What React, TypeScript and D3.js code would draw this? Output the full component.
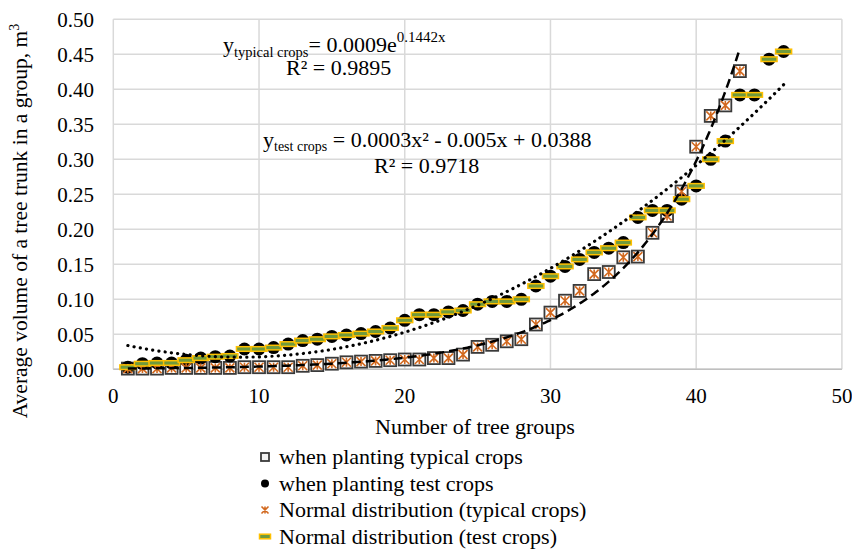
import React from "react";
import * as d3 from "d3";

// ---- data ----
const groupsTypical = d3.range(1, 44); // 1..43
const groupsTest = d3.range(1, 47); // 1..46

const typicalCrops = [
  0.001, 0.001, 0.001, 0.002, 0.002, 0.002, 0.002, 0.002, 0.003, 0.003,
  0.003, 0.003, 0.005, 0.006, 0.008, 0.010, 0.011, 0.012, 0.013, 0.014,
  0.014, 0.016, 0.016, 0.021, 0.032, 0.035, 0.040, 0.043, 0.064, 0.081,
  0.098, 0.112, 0.136, 0.139, 0.160, 0.161, 0.195, 0.219, 0.254, 0.318,
  0.362, 0.377, 0.426,
];
const testCrops = [
  0.003, 0.008, 0.009, 0.009, 0.013, 0.016, 0.018, 0.019, 0.029, 0.029,
  0.031, 0.036, 0.041, 0.043, 0.047, 0.049, 0.051, 0.054, 0.059, 0.070,
  0.078, 0.078, 0.082, 0.084, 0.093, 0.097, 0.097, 0.100, 0.119, 0.133,
  0.147, 0.157, 0.167, 0.173, 0.181, 0.217, 0.227, 0.227, 0.243, 0.262,
  0.300, 0.326, 0.392, 0.392, 0.443, 0.454,
];
const normalTypical = [
  0.001, 0.001, 0.001, 0.002, 0.002, 0.002, 0.002, 0.002, 0.003, 0.003,
  0.003, 0.003, 0.005, 0.006, 0.008, 0.010, 0.011, 0.012, 0.013, 0.014,
  0.014, 0.016, 0.016, 0.021, 0.032, 0.035, 0.040, 0.043, 0.064, 0.081,
  0.098, 0.112, 0.136, 0.139, 0.160, 0.161, 0.195, 0.219, 0.254, 0.318,
  0.362, 0.377, 0.426,
];
const normalTest = [
  0.003, 0.008, 0.009, 0.009, 0.013, 0.016, 0.018, 0.019, 0.029, 0.029,
  0.031, 0.036, 0.041, 0.043, 0.047, 0.049, 0.051, 0.054, 0.059, 0.070,
  0.078, 0.078, 0.082, 0.084, 0.093, 0.097, 0.097, 0.100, 0.119, 0.133,
  0.147, 0.157, 0.167, 0.173, 0.181, 0.217, 0.227, 0.227, 0.243, 0.262,
  0.300, 0.326, 0.392, 0.392, 0.443, 0.454,
];

const xTicks = [0, 10, 20, 30, 40, 50];
const yTicks = [0, 0.05, 0.1, 0.15, 0.2, 0.25, 0.3, 0.35, 0.4, 0.45, 0.5];

const legendLabels = [
  "when planting typical crops",
  "when planting test crops",
  "Normal distribution (typical crops)",
  "Normal distribution (test crops)",
];

// trendline coefficients
const expA = 0.00093;
const expB = 0.1442;
const polyA = 0.00028;
const polyB = -0.00488;
const polyC = 0.0386;

const FONT = "'Liberation Serif', 'Times New Roman', serif";
const ORANGE = "#d2691f";

const W = 852;
const H = 549;

function Square({ cx, cy, s, fill }: { cx: number; cy: number; s: number; fill: string }) {
  return (
    <rect x={cx - s / 2} y={cy - s / 2} width={s} height={s} fill={fill} stroke="#3a3a3a" strokeWidth={1.8} />
  );
}
function Star({ cx, cy, s }: { cx: number; cy: number; s: number }) {
  const h = s / 2;
  return (
    <path
      d={`M${cx - h},${cy - h}L${cx + h},${cy + h}M${cx - h},${cy + h}L${cx + h},${cy - h}M${cx},${cy - h}L${cx},${cy + h}`}
      stroke={ORANGE}
      strokeWidth={1.6}
      fill="none"
    />
  );
}
function Dash({ cx, cy, w }: { cx: number; cy: number; w: number }) {
  return (
    <rect x={cx - w / 2} y={cy - 2.3} width={w} height={4.6} fill="#6f9a3c" stroke="#ffc000" strokeWidth={1.5} />
  );
}

export default function App() {
  const x = d3.scaleLinear().domain([0, 50]).range([113.3, 841.9]);
  const y = d3.scaleLinear().domain([0, 0.5]).range([369.3, 19.3]);

  const line = d3
    .line<[number, number]>()
    .x((d) => x(d[0]))
    .y((d) => y(d[1]));

  const expPts: [number, number][] = d3
    .range(1, 43.001, 0.1)
    .map((t) => [t, expA * Math.exp(expB * t)]);
  const polyPts: [number, number][] = d3
    .range(1, 46.001, 0.1)
    .map((t) => [t, polyA * t * t + polyB * t + polyC]);

  const legendY = [457, 483.5, 510, 536.5];
  const legendX = 265;

  return (
    <svg width={W} height={H} style={{ position: "absolute", left: 0, top: 0, background: "#fff" }} fontFamily={FONT}>
      <rect width={W} height={H} fill="#fff" />
      {/* gridlines */}
      {yTicks.map((t) => (
        <line key={"gy" + t} x1={x(0)} x2={x(50)} y1={y(t)} y2={y(t)} stroke="#d9d9d9" strokeWidth={1.5} />
      ))}
      {xTicks.map((t) => (
        <line key={"gx" + t} x1={x(t)} x2={x(t)} y1={y(0)} y2={y(0.5)} stroke="#d9d9d9" strokeWidth={1.5} />
      ))}
      <line x1={x(0)} x2={x(50)} y1={y(0)} y2={y(0)} stroke="#bfbfbf" strokeWidth={1.5} />

      {/* tick labels */}
      {yTicks.map((t) => (
        <text key={"ty" + t} x={94} y={y(t) + 7.5} textAnchor="end" fontSize={21} fill="#000">
          {d3.format(".2f")(t)}
        </text>
      ))}
      {xTicks.map((t) => (
        <text key={"tx" + t} x={x(t)} y={403} textAnchor="middle" fontSize={21} fill="#000">
          {t}
        </text>
      ))}

      {/* axis titles */}
      <text x={475} y={434} textAnchor="middle" fontSize={22} fill="#000">
        Number of tree groups
      </text>
      <text transform="translate(27,221) rotate(-90)" textAnchor="middle" fontSize={21.5} fill="#000">
        Average volume of a tree trunk in a group, m
        <tspan dy={-8} fontSize={14}>3</tspan>
      </text>

      {/* markers */}
      {typicalCrops.map((v, i) => (
        <Square key={"sq" + i} cx={x(groupsTypical[i])} cy={y(v)} s={12} fill="#ffffff" />
      ))}
      {testCrops.map((v, i) => (
        <circle key={"ci" + i} cx={x(groupsTest[i])} cy={y(v)} r={6.5} fill="#000" />
      ))}
      {normalTypical.map((v, i) => (
        <Star key={"st" + i} cx={x(groupsTypical[i])} cy={y(v)} s={9} />
      ))}
      {normalTest.map((v, i) => (
        <Dash key={"da" + i} cx={x(groupsTest[i])} cy={y(v)} w={16} />
      ))}

      {/* trendlines */}
      <path d={line(expPts) || ""} fill="none" stroke="#000" strokeWidth={2.5} strokeDasharray="9,5" />
      <path
        d={line(polyPts) || ""}
        fill="none"
        stroke="#000"
        strokeWidth={3.2}
        strokeDasharray="0.1,6.2"
        strokeLinecap="round"
      />

      {/* equations */}
      <text x={223} y={52} fontSize={22} fill="#000">
        y
        <tspan fontSize={14.5} dy={5}>typical crops</tspan>
        <tspan fontSize={22} dy={-5}>= 0.0009e</tspan>
        <tspan fontSize={15} dy={-10}>0.1442x</tspan>
      </text>
      <text x={286} y={75} fontSize={22} fill="#000">
        R² = 0.9895
      </text>
      <text x={263} y={146.5} fontSize={22} fill="#000">
        y
        <tspan fontSize={14} dy={4}>test crops</tspan>
        <tspan fontSize={22} dy={-4}> = 0.0003x²</tspan>
        <tspan> - 0.005x + 0.0388</tspan>
      </text>
      <text x={374} y={172.5} fontSize={22} fill="#000">
        R² = 0.9718
      </text>

      {/* legend */}
      <g>
        <Square cx={legendX} cy={legendY[0]} s={8} fill="#f2f2f2" />
        <circle cx={legendX} cy={legendY[1]} r={4} fill="#000" />
        <Star cx={legendX} cy={legendY[2]} s={7} />
        <Dash cx={legendX} cy={legendY[3]} w={11} />
        {legendLabels.map((l, i) => (
          <text key={"lg" + i} x={279} y={legendY[i] + 7} fontSize={22} fill="#000">
            {l}
          </text>
        ))}
      </g>
    </svg>
  );
}
